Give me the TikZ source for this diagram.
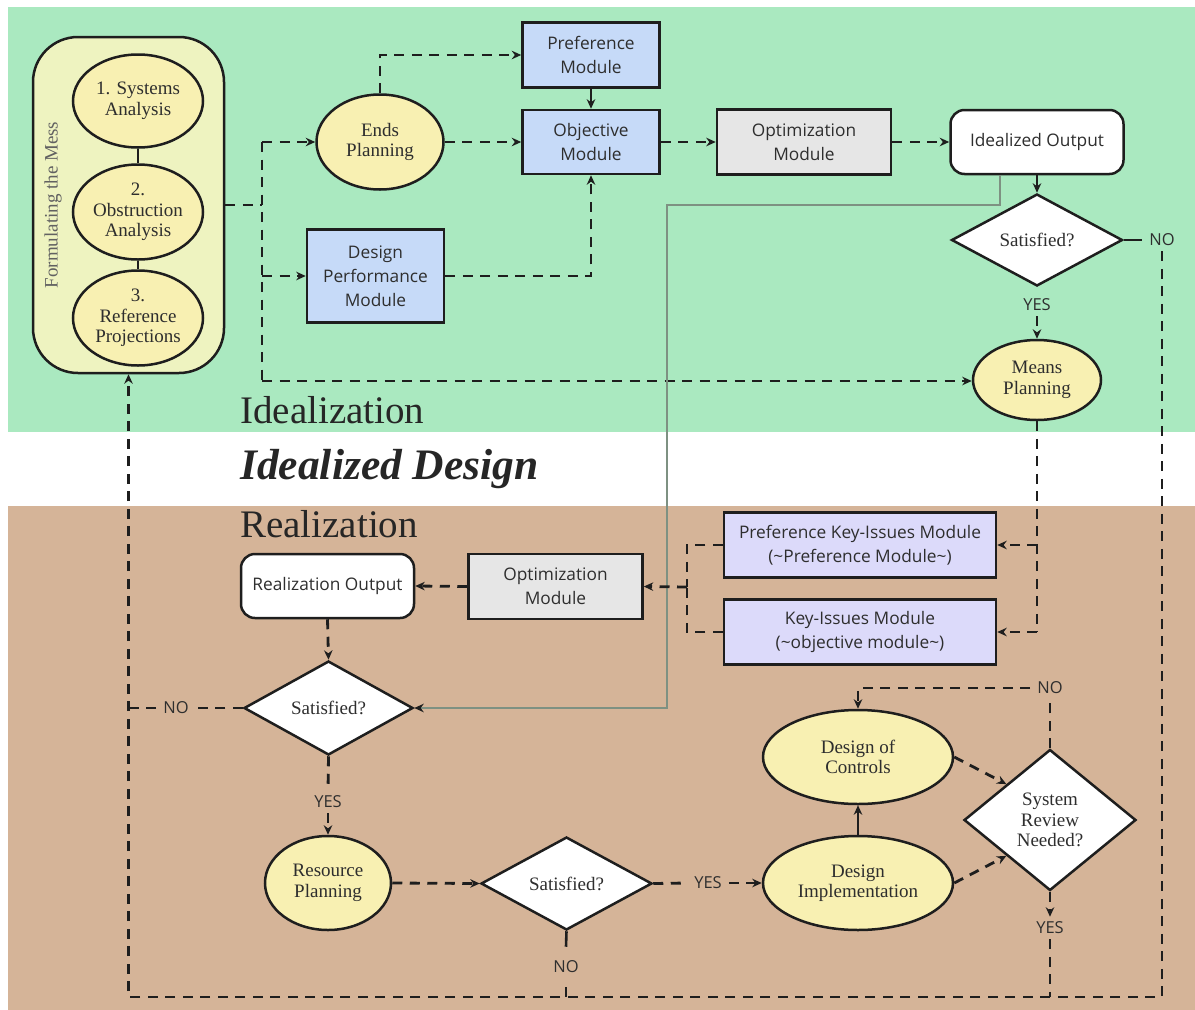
\documentclass[tikz,border=0pt]{standalone}
\usepackage{fontspec}
\setmainfont{Liberation Serif}
\newfontfamily\osans{Open Sans}
\usetikzlibrary{shapes.geometric,arrows.meta}

\definecolor{bandgreen}{HTML}{AAE9C0}
\definecolor{bandbrown}{HTML}{D5B498}
\definecolor{ellfill}{HTML}{F8F0B2}
\definecolor{messfill}{HTML}{EEF3C0}
\definecolor{modblue}{HTML}{C6DAF8}
\definecolor{modlav}{HTML}{DCDAFA}
\definecolor{modgray}{HTML}{E6E6E6}
\definecolor{ink}{HTML}{1E1E1E}
\definecolor{txt}{HTML}{2E2E2E}
\definecolor{linkgray}{HTML}{7E9182}

\newcommand\serifnode{\fontsize{19}{20.5}\selectfont}
\newcommand\sansnode{\osans\fontsize{17.3}{24}\selectfont}
\newcommand\lblfont{\osans\fontsize{16.5}{18}\selectfont}

\tikzset{
  base/.style={draw=ink, line width=2.5pt, text=txt, align=center, inner sep=0pt},
  oval/.style={base, ellipse, fill=ellfill, font=\serifnode},
  module/.style={base, rectangle, fill=modblue, font=\sansnode},
  keymod/.style={base, rectangle, fill=modlav, font=\sansnode,
    minimum width=272pt, minimum height=65pt},
  optmod/.style={base, rectangle, fill=modgray, font=\sansnode,
    minimum width=174pt, minimum height=65pt},
  outbox/.style={base, rectangle, rounded corners=14pt, fill=white, font=\sansnode,
    minimum width=173pt, minimum height=64pt},
  decide/.style={base, diamond, fill=white, font=\serifnode},
  lbl/.style={font=\lblfont, text=txt, inner xsep=7pt, inner ysep=5pt},
  conn/.style={draw=ink, line width=2.8pt, dash pattern=on 10pt off 7.5pt},
  solidln/.style={draw=ink, line width=2.6pt},
  tip/.style={-{Stealth[length=9.5pt,width=8.5pt]}},
  title/.style={text=black!85, inner sep=0pt, anchor=base west},
}

\begin{document}
\begin{tikzpicture}[x=1pt,y=-1pt]
\useasboundingbox (0,0) rectangle (1195,1010);

% bands
\fill[white] (0,0) rectangle (1195,1010);
\fill[bandgreen] (8,7) rectangle (1195,432);
\fill[bandbrown] (8,506) rectangle (1195,1010);

% band titles
\node[title, font=\fontsize{39}{42}\selectfont] (tIdeal) at (240,423) {Idealization};
\node[title, font=\fontsize{43.5}{46}\selectfont\bfseries\itshape] (tDesign) at (240,479) {Idealized Design};
\node[title, font=\fontsize{39}{42}\selectfont] (tReal) at (240,537) {Realization};

% formulating the mess
\node[base, rectangle, rounded corners=45pt, fill=messfill,
      minimum width=191pt, minimum height=336pt] (mess) at (128.5,205) {};
\node[text=black!62, font=\serifnode, rotate=90, inner sep=0pt] (messlbl) at (53,205) {Formulating the Mess};
\node[oval, minimum width=130pt, minimum height=93pt] (sa) at (138,101) {1. Systems\\Analysis};
\node[oval, minimum width=130pt, minimum height=95pt] (oa) at (138,212) {2.\\Obstruction\\Analysis};
\node[oval, minimum width=130pt, minimum height=95pt] (rp) at (138,318) {3.\\Reference\\Projections};
\draw[solidln] (sa) -- (oa);
\draw[solidln] (oa) -- (rp);

% idealization nodes
\node[oval, minimum width=127pt, minimum height=95pt] (ends) at (380,142) {Ends\\Planning};
\node[module, minimum width=137pt, minimum height=65pt] (pref) at (591,55) {Preference\\Module};
\node[module, minimum width=137pt, minimum height=64pt] (obj) at (591,142) {Objective\\Module};
\node[module, minimum width=137pt, minimum height=93pt] (dpm) at (375.5,276) {Design\\Performance\\Module};
\node[optmod] (opt) at (804,142) {Optimization\\Module};
\node[outbox] (iout) at (1037,142) {Idealized Output};
\node[decide, minimum width=171pt, minimum height=92pt] (sat1) at (1037,240) {Satisfied?};
\node[oval, minimum width=128pt, minimum height=80pt] (means) at (1037,380) {Means\\Planning};
\node[lbl] (yes1) at (1037,305) {YES};
\node[lbl] (no1) at (1162,240) {NO};

% realization nodes
\node[keymod] (pkim) at (860,545) {Preference Key-Issues Module\\(\textasciitilde Preference Module\textasciitilde)};
\node[keymod] (kim) at (860,632) {Key-Issues Module\\(\textasciitilde objective module\textasciitilde)};
\node[optmod] (opt2) at (555.5,586.5) {Optimization\\Module};
\node[outbox] (rout) at (327.5,586) {Realization Output};
\node[decide, minimum width=169pt, minimum height=94pt] (sat2) at (328.5,708) {Satisfied?};
\node[lbl] (no2) at (176,708) {NO};
\node[lbl] (yes2) at (328,802) {YES};
\node[oval, minimum width=126pt, minimum height=94pt] (res) at (328,883) {Resource\\Planning};
\node[decide, minimum width=171pt, minimum height=93pt] (sat3) at (566.5,883.5) {Satisfied?};
\node[lbl] (yes3) at (708,883) {YES};
\node[lbl, inner ysep=14pt] (no3) at (566,967) {NO};
\node[oval, minimum width=190pt, minimum height=94pt] (dimp) at (858,883) {Design\\Implementation};
\node[oval, minimum width=190pt, minimum height=94pt] (doc) at (858,757) {Design of\\Controls};
\node[decide, minimum width=172pt, minimum height=141pt] (srn) at (1050,820) {System\\Review\\Needed?};
\node[lbl] (no4) at (1050,688) {NO};
\node[lbl] (yes4) at (1050,928) {YES};

% junction points
\coordinate (busTop) at (262,142);
\coordinate (busBot) at (262,381);
\coordinate (gA) at (1000,205);
\coordinate (gB) at (667,205);
\coordinate (gC) at (667,708);
\coordinate (merge) at (687,587);
\coordinate (retR) at (1162,997);
\coordinate (retL) at (128.5,997);

% idealization connectors
\draw[conn] (mess.east) -- (mess.east -| busTop);
\draw[conn] (busTop) -- (busBot);
\draw[conn,tip] (busTop) -- (ends.west);
\draw[conn,tip] (busTop |- dpm.west) -- (dpm.west);
\draw[conn,tip] (busBot) -- (busBot -| means.west);
\draw[conn,tip] (ends.north) |- (pref.west);
\draw[conn,tip] (ends.east) -- (obj.west);
\draw[solidln,tip] (pref.south) -- (obj.north);
\draw[conn,tip] (dpm.east) -| (obj.south);
\draw[conn,tip] (obj.east) -- (opt.west);
\draw[conn,tip] (opt.east) -- (iout.west);
\draw[solidln,tip] (iout.south) -- (sat1.north);
\draw[conn,tip] (yes1.south) -- (means.north);
\draw[solidln] (sat1.east) -- (no1.west);

% long return loop to the mess
\draw[conn,tip] (no1.south) -- (retR) -- (retL) -- (mess.south);

% idealized output feeds the realization check
\draw[linkgray, line width=2.2pt, -{Stealth[length=9.5pt,width=8.5pt,color=ink]}]
  (iout.south -| gA) -- (gA) -- (gB) -- (gC) -- (sat2.east);

% realization connectors
\draw[conn] (means.south) -- (means.south |- kim.east);
\draw[conn,tip] (means.south |- pkim.east) -- (pkim.east);
\draw[conn,tip] (means.south |- kim.east) -- (kim.east);
\draw[conn] (pkim.west) -| (merge);
\draw[conn] (kim.west) -| (merge);
\draw[conn,tip] (merge) -- (opt2.east);
\draw[conn,tip] (opt2.west) -- (rout.east);
\draw[conn,tip] (rout.south) -- (sat2.north);
\draw[conn] (sat2.west) -- (no2.east);
\draw[conn] (no2.west) -- (no2.west -| retL);
\draw[conn] (sat2.south) -- (yes2.north);
\draw[conn,tip] (yes2.south) -- (res.north);
\draw[conn,tip] (res.east) -- (sat3.west);
\draw[conn] (sat3.east) -- (yes3.west);
\draw[conn,tip] (yes3.east) -- (dimp.west);
\draw[solidln] (sat3.south) -- (no3.north);
\draw[conn] (no3.south) -- (no3.south |- retR);
\draw[solidln,tip] (dimp.north) -- (doc.south);
\draw[conn,tip] (doc.east) -- (srn.north west);
\draw[conn,tip] (dimp.east) -- (srn.south west);
\draw[conn] (srn.north) -- (no4.south);
\draw[conn,tip] (no4.west) -| (doc.north);
\draw[conn,tip] (srn.south) -- (yes4.north);
\draw[conn] (yes4.south) -- (yes4.south |- retR);
\end{tikzpicture}
\end{document}
